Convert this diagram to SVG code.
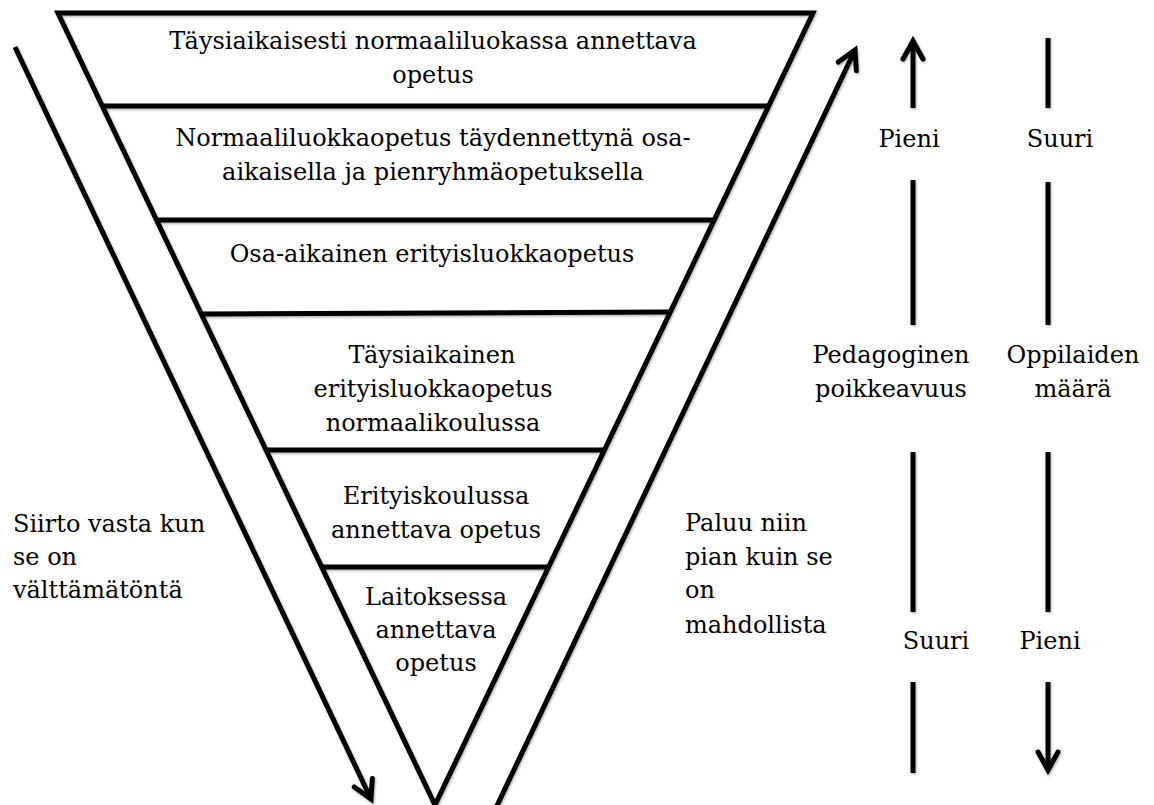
<svg xmlns="http://www.w3.org/2000/svg" width="1154" height="805" viewBox="0 0 1154 805">
  <style>
    .t { font-family: "DejaVu Serif", "Liberation Serif", serif; font-size: 24px; fill: #000; }
    .m { text-anchor: middle; }
    .ln { stroke: #000; stroke-width: 5; fill: none; stroke-linecap: butt; }
  </style>
  <defs>
    <filter id="shadow" x="-5%" y="-5%" width="110%" height="110%">
      <feDropShadow dx="1" dy="1.5" stdDeviation="1" flood-color="#000" flood-opacity="0.3"/>
    </filter>
    <marker id="chev" markerUnits="userSpaceOnUse" markerWidth="30" markerHeight="30" viewBox="-24 -15 30 30" refX="0" refY="0" orient="auto" overflow="visible">
      <path d="M -18,-10 L 0,0 L -18,10" fill="none" stroke="#000" stroke-width="5" stroke-linejoin="miter" stroke-linecap="round"/>
    </marker>
  </defs>
  <rect width="1154" height="805" fill="#fff"/>

  <g id="pyramid" filter="url(#shadow)">
    <polygon class="ln" stroke-linejoin="miter" points="58,13 813,13 435,805"/>
    <line class="ln" x1="102" y1="106" x2="769" y2="106"/>
    <line class="ln" x1="156" y1="220" x2="714" y2="220"/>
    <line class="ln" x1="201" y1="314" x2="670" y2="312"/>
    <line class="ln" x1="266" y1="450" x2="604" y2="450"/>
    <line class="ln" x1="322" y1="567" x2="549" y2="567"/>
  </g>

  <g id="level1">
    <text class="t m" x="433" y="49">Täysiaikaisesti normaaliluokassa annettava</text>
    <text class="t m" x="433" y="83">opetus</text>
  </g>
  <g id="level2">
    <text class="t m" x="433" y="146">Normaaliluokkaopetus täydennettynä osa-</text>
    <text class="t m" x="433" y="180">aikaisella ja pienryhmäopetuksella</text>
  </g>
  <g id="level3">
    <text class="t m" x="432" y="262">Osa-aikainen erityisluokkaopetus</text>
  </g>
  <g id="level4">
    <text class="t m" x="432" y="363">Täysiaikainen</text>
    <text class="t m" x="433" y="397">erityisluokkaopetus</text>
    <text class="t m" x="433" y="431">normaalikoulussa</text>
  </g>
  <g id="level5">
    <text class="t m" x="436" y="504">Erityiskoulussa</text>
    <text class="t m" x="436" y="538">annettava opetus</text>
  </g>
  <g id="level6">
    <text class="t m" x="436" y="605">Laitoksessa</text>
    <text class="t m" x="436" y="638">annettava</text>
    <text class="t m" x="436" y="671">opetus</text>
  </g>

  <g id="label-siirto">
    <text class="t" x="13" y="532">Siirto vasta kun</text>
    <text class="t" x="13" y="565">se on</text>
    <text class="t" x="13" y="598">välttämätöntä</text>
  </g>
  <g id="label-paluu">
    <text class="t" x="685" y="531">Paluu niin</text>
    <text class="t" x="685" y="565">pian kuin se</text>
    <text class="t" x="685" y="598">on</text>
    <text class="t" x="685" y="633">mahdollista</text>
  </g>

  <g id="scale-poikkeavuus">
    <text class="t m" x="909" y="147">Pieni</text>
    <text class="t m" x="891" y="363">Pedagoginen</text>
    <text class="t m" x="891" y="397">poikkeavuus</text>
    <text class="t m" x="936" y="649">Suuri</text>
  </g>
  <g id="scale-maara">
    <text class="t m" x="1060" y="147">Suuri</text>
    <text class="t m" x="1073" y="363">Oppilaiden</text>
    <text class="t m" x="1073" y="397">määrä</text>
    <text class="t m" x="1050" y="649">Pieni</text>
  </g>

  <g id="connectors" filter="url(#shadow)">
    <line class="ln" x1="15" y1="47" x2="371" y2="799" marker-end="url(#chev)"/>
    <line class="ln" x1="494" y1="812" x2="855" y2="50" marker-end="url(#chev)"/>

    <line class="ln" x1="913" y1="108" x2="913" y2="41" marker-end="url(#chev)"/>
    <line class="ln" x1="913" y1="180" x2="913" y2="325"/>
    <line class="ln" x1="913" y1="452" x2="913" y2="612"/>
    <line class="ln" x1="913" y1="682" x2="913" y2="773"/>

    <line class="ln" x1="1048" y1="38" x2="1048" y2="108"/>
    <line class="ln" x1="1048" y1="182" x2="1048" y2="325"/>
    <line class="ln" x1="1048" y1="452" x2="1048" y2="612"/>
    <line class="ln" x1="1048" y1="682" x2="1048" y2="770" marker-end="url(#chev)"/>
  </g>
</svg>
